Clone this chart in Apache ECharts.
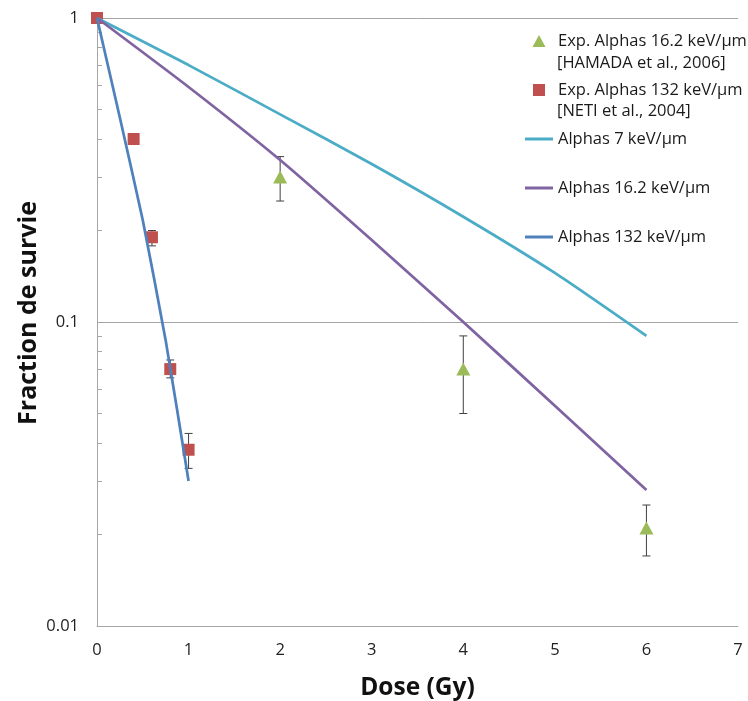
<!DOCTYPE html>
<html>
<head>
<meta charset="utf-8">
<script src="https://cdn.jsdelivr.net/npm/echarts@6/dist/echarts.min.js"></script>
<style>html,body{margin:0;padding:0;background:#fff}#c{width:748px;height:701px}</style>
</head>
<body>
<div id="c"></div>
<script>
// ---- data ----
var xTicks = [0, 1, 2, 3, 4, 5, 6, 7];
var yTickLabels = ['0.01', '0.1', '1'];
var minorMultiples = [2, 3, 4, 5, 6, 7, 8, 9];
var minorDecades = [0.01, 0.1];

// Experimental 16.2 keV/um [HAMADA] : dose, survival, low, high
var hamadaDose = [2, 4, 6];
var hamadaSurv = [0.30, 0.07, 0.021];
var hamadaLow  = [0.25, 0.05, 0.017];
var hamadaHigh = [0.35, 0.09, 0.025];

// Experimental 132 keV/um [NETI]
var netiDose = [0, 0.4, 0.6, 0.8, 1.0];
var netiSurv = [1.0, 0.40, 0.19, 0.070, 0.038];
var netiLow  = [1.0, 0.39, 0.178, 0.0655, 0.033];
var netiHigh = [1.0, 0.41, 0.200, 0.075, 0.043];

// Model curves
var a7Dose = [0, 1, 2, 3, 4, 5, 6];
var a7Surv = [1, 0.70, 0.482, 0.331, 0.222, 0.145, 0.090];
var a16Dose = [0, 1, 2, 3, 4, 5, 6];
var a16Surv = [1, 0.593, 0.341, 0.186, 0.100, 0.053, 0.028];
var a132Dose = [0, 0.25, 0.5, 0.75, 1.0];
var a132Surv = [1, 0.47, 0.216, 0.087, 0.030];

function pairs(xs, ys) { return xs.map(function (x, i) { return [x, ys[i]]; }); }
function errData(xs, lo, hi) { return xs.map(function (x, i) { return [x, lo[i], hi[i]]; }); }

var minorTicks = [];
minorDecades.forEach(function (d) { minorMultiples.forEach(function (m) { minorTicks.push(+(m * d).toPrecision(3)); }); });

var FONT = "'Open Sans', 'Liberation Sans', sans-serif";
var NAME_H = 'Exp. Alphas 16.2 keV/µm';
var NAME_N = 'Exp. Alphas 132 keV/µm';
var NAME_7 = 'Alphas 7 keV/µm';
var NAME_16 = 'Alphas 16.2 keV/µm';
var NAME_132 = 'Alphas 132 keV/µm';
var LINE_ICON = 'path://M0,0 L28,0 L28,3 L0,3 Z';

function errRender(params, api) {
  var x = api.value(0);
  var lo = api.coord([x, api.value(1)]);
  var hi = api.coord([x, api.value(2)]);
  var cap = 4;
  var st = { stroke: '#404040', lineWidth: 1 };
  return {
    type: 'group',
    children: [
      { type: 'line', shape: { x1: lo[0], y1: lo[1], x2: hi[0], y2: hi[1] }, style: st },
      { type: 'line', shape: { x1: lo[0] - cap, y1: lo[1], x2: lo[0] + cap, y2: lo[1] }, style: st },
      { type: 'line', shape: { x1: hi[0] - cap, y1: hi[1], x2: hi[0] + cap, y2: hi[1] }, style: st }
    ]
  };
}

var chart = echarts.init(document.getElementById('c'));
chart.setOption({
  animation: false,
  backgroundColor: '#fff',
  textStyle: { fontFamily: FONT },
  grid: { left: 97, right: 10, top: 18, bottom: 75, containLabel: false, outerBoundsMode: 'none' },
  legend: {
    orient: 'vertical',
    left: 520,
    top: 27,
    itemWidth: 28,
    itemHeight: 12,
    itemGap: 31,
    textStyle: { fontFamily: FONT, fontSize: 16.5, color: '#1a1a1a', lineHeight: 18 },
    data: [
      { name: NAME_H, icon: 'path://M0,12 L6.5,0 L13,12 Z' },
      { name: NAME_N, icon: 'path://M0,0 L12,0 L12,12 L0,12 Z' },
      { name: NAME_7, icon: LINE_ICON },
      { name: NAME_16, icon: LINE_ICON },
      { name: NAME_132, icon: LINE_ICON }
    ]
  },
  graphic: [
    { type: 'text', left: 557, top: 55, style: { text: '[HAMADA et al., 2006]', fontFamily: FONT, fontSize: 16.5, fill: '#1a1a1a' } },
    { type: 'text', left: 557, top: 103, style: { text: '[NETI et al., 2004]', fontFamily: FONT, fontSize: 16.5, fill: '#1a1a1a' } }
  ],
  xAxis: {
    type: 'value',
    min: 0, max: 7, interval: 1,
    name: 'Dose (Gy)',
    nameLocation: 'middle',
    nameGap: 50,
    nameMoveOverlap: false,
    nameTextStyle: { fontFamily: FONT, fontSize: 24.5, fontWeight: 'bold', color: '#111' },
    axisLine: { show: true, lineStyle: { color: '#a6a6a6' } },
    axisTick: { show: false },
    axisLabel: { fontSize: 16.5, color: '#222', margin: 16, formatter: function (v) { return xTicks.indexOf(v) >= 0 ? String(v) : ''; } },
    splitLine: { show: false }
  },
  yAxis: [
    {
      type: 'log',
      logBase: 10,
      min: 0.01, max: 1,
      name: 'Fraction de survie',
      nameLocation: 'middle',
      nameGap: 56,
      nameMoveOverlap: false,
      nameTextStyle: { fontFamily: FONT, fontSize: 25, fontWeight: 'bold', color: '#111', padding: [0, 0, 0, 18] },
      axisLine: { show: true, lineStyle: { color: '#a6a6a6' } },
      axisTick: { show: false },
      axisLabel: {
        fontSize: 16.5, color: '#222', margin: 18,
        formatter: function (v) {
          var k = Math.round(Math.log10(v)) + 2;
          return yTickLabels[k] !== undefined ? yTickLabels[k] : '';
        }
      },
      splitLine: { show: true, lineStyle: { color: '#a6a6a6', width: 1 } }
    },
    {
      type: 'log',
      logBase: 10,
      min: 0.01, max: 1,
      position: 'left',
      axisLine: { show: false },
      axisTick: { show: true, inside: true, length: 5, lineStyle: { color: '#a6a6a6' }, customValues: minorTicks },
      axisLabel: { show: false },
      splitLine: { show: false }
    }
  ],
  series: [
    {
      name: NAME_H, type: 'custom', renderItem: errRender, data: errData(hamadaDose, hamadaLow, hamadaHigh),
      encode: { x: 0, y: [1, 2] }, z: 2, clip: false, silent: true,
      itemStyle: { color: '#9BBB59' }
    },
    {
      name: NAME_N, type: 'custom', renderItem: errRender, data: errData(netiDose, netiLow, netiHigh),
      encode: { x: 0, y: [1, 2] }, z: 2, clip: false, silent: true,
      itemStyle: { color: '#C0504D' }
    },
    {
      name: NAME_H, type: 'scatter', symbol: 'triangle', symbolSize: [14, 13],
      data: pairs(hamadaDose, hamadaSurv), itemStyle: { color: '#9BBB59', opacity: 1 }, z: 3, clip: false
    },
    {
      name: NAME_N, type: 'scatter', symbol: 'rect', symbolSize: 12,
      data: pairs(netiDose, netiSurv), itemStyle: { color: '#C0504D', opacity: 1 }, z: 3, clip: false
    },
    {
      name: NAME_7, type: 'line', smooth: 0.2, symbol: 'none', data: pairs(a7Dose, a7Surv),
      lineStyle: { color: '#4BACC6', width: 2.75 }, itemStyle: { color: '#4BACC6' }, z: 4
    },
    {
      name: NAME_16, type: 'line', smooth: 0.2, symbol: 'none', data: pairs(a16Dose, a16Surv),
      lineStyle: { color: '#8064A2', width: 2.75 }, itemStyle: { color: '#8064A2' }, z: 4
    },
    {
      name: NAME_132, type: 'line', smooth: 0.15, symbol: 'none', data: pairs(a132Dose, a132Surv),
      lineStyle: { color: '#4F81BD', width: 2.75 }, itemStyle: { color: '#4F81BD' }, z: 5
    }
  ]
});
</script>
</body>
</html>
